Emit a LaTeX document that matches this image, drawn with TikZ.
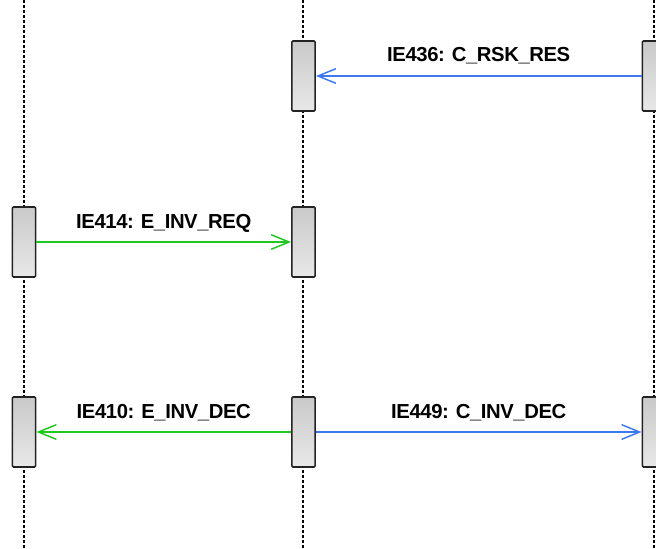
\documentclass[tikz,border=0pt]{standalone}
\usepackage{fontspec}
\newfontfamily\labfont{Liberation Sans Bold}[LetterSpace=-2]
\usetikzlibrary{arrows.meta}
\definecolor{msgblue}{RGB}{60,120,240}
\definecolor{msggreen}{RGB}{30,200,30}
\definecolor{boxedge}{RGB}{35,35,35}
\begin{document}
\begin{tikzpicture}[x=0.75pt,y=-0.75pt,
  lifeline/.style={line width=0.9pt, dash pattern=on 2.25pt off 1.5pt, black},
  actbox/.style={draw=boxedge, line width=1.2pt, rounded corners=0.8pt, minimum width=17.5pt, minimum height=52.5pt, inner sep=0pt, top color=black!21, bottom color=black!9},
  msg/.style={line width=1.1pt, -{Straight Barb[length=13.5pt,width=11pt,line width=1.1pt]}},
  bluemsg/.style={msg, draw=msgblue},
  greenmsg/.style={msg, draw=msggreen},
  msglabel/.style={font=\labfont\fontsize{15.2pt}{17pt}\selectfont, anchor=base, inner sep=0pt, yshift=10.5pt}
]
\useasboundingbox (0,0) rectangle (656,549);
% lifelines
\coordinate (lt) at (24,0);   \coordinate (lb) at (24,549);
\coordinate (mt) at (303,0); \coordinate (mb) at (303,549);
\coordinate (rt) at (654,0);  \coordinate (rb) at (654,549);
\draw[lifeline] (lt) -- (lb);
\draw[lifeline] (mt) -- (mb);
\draw[lifeline] (rt) -- (rb);
% activation boxes
\node[actbox] (m1) at (303.5,76) {};
\node[actbox] (r1) at (654,76) {};
\node[actbox] (l2) at (24,242) {};
\node[actbox] (m2) at (303.5,242) {};
\node[actbox] (l3) at (24,432) {};
\node[actbox] (m3) at (303.5,432) {};
\node[actbox] (r3) at (654,432) {};
% messages
\draw[bluemsg] (r1.west) -- (m1.east) node[msglabel, midway] {IE436: C\_RSK\_RES};
\draw[greenmsg] (l2.east) -- (m2.west) node[msglabel, midway] {IE414: E\_INV\_REQ};
\draw[greenmsg] (m3.west) -- (l3.east) node[msglabel, midway] {IE410: E\_INV\_DEC};
\draw[bluemsg] (m3.east) -- (r3.west) node[msglabel, midway] {IE449: C\_INV\_DEC};
\end{tikzpicture}
\end{document}
